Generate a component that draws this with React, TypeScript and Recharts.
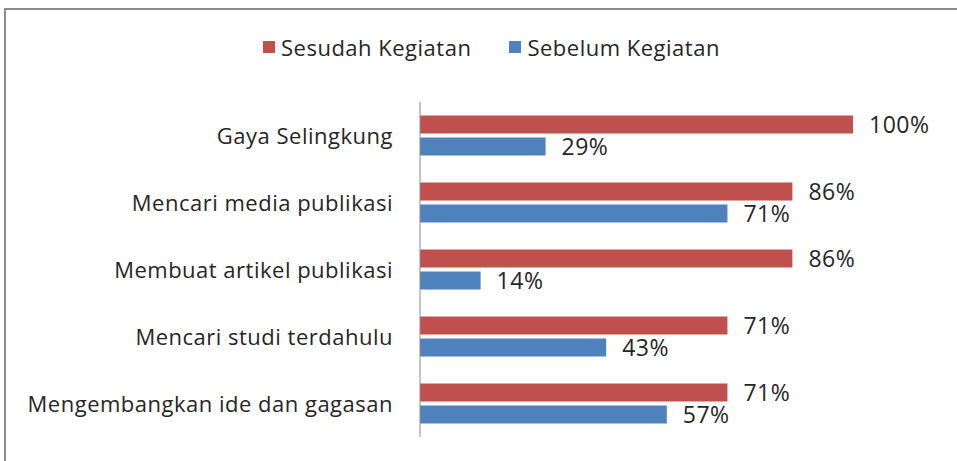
import { BarChart, Bar, XAxis, YAxis, LabelList } from 'recharts';

const categories = [
  'Gaya Selingkung',
  'Mencari media publikasi',
  'Membuat artikel publikasi',
  'Mencari studi terdahulu',
  'Mengembangkan ide dan gagasan',
];
const sesudah = [100, 86, 86, 71, 71];
const sebelum = [29, 71, 14, 43, 57];

const seriesNames = ['Sesudah Kegiatan', 'Sebelum Kegiatan'];
const seriesColors = ['#C0504D', '#4F81BD'];

const data = categories.map((name, i) => ({ name, sesudah: sesudah[i], sebelum: sebelum[i] }));

const FONT = '"Open Sans", sans-serif';

const CategoryTick = ({ x, y, payload }: any) => (
  <text x={x} y={y} dy={8} textAnchor="end" fontSize={22} letterSpacing={0.5} fill="#262626" fontFamily={FONT}>
    {payload.value}
  </text>
);

const TopLegend = () => (
  <div
    style={{
      position: 'absolute',
      top: 32,
      left: 263,
      display: 'flex',
      gap: 38,
      fontFamily: FONT,
      fontSize: 22,
      letterSpacing: 0.5,
      color: '#262626',
      lineHeight: '30px',
    }}
  >
    {seriesNames.map((n, i) => (
      <div key={n} style={{ display: 'flex', alignItems: 'center' }}>
        <span style={{ width: 12, height: 12, background: seriesColors[i], marginRight: 6, display: 'inline-block' }} />
        {n}
      </div>
    ))}
  </div>
);

const pct = (v: any) => `${v}%`;

export default function App() {
  return (
    <div style={{ position: 'absolute', left: 0, top: 0, width: 957, height: 461, background: '#fff', overflow: 'hidden' }}>
      <div style={{ position: 'absolute', left: 4, top: 8, right: -10, bottom: -10, borderTop: '2px solid #8c8c8c', borderLeft: '2px solid #8c8c8c' }} />
      <TopLegend />
      <div style={{ position: 'absolute', left: 0, top: 0 }}>
        <BarChart
          width={957}
          height={461}
          data={data}
          layout="vertical"
          margin={{ top: 102, right: 104, bottom: 24, left: 0 }}
          barCategoryGap="20%"
          barGap={4}
        >
          <XAxis type="number" domain={[0, 100]} hide />
          <YAxis
            type="category"
            dataKey="name"
            width={420}
            axisLine={{ stroke: '#8c8c8c', strokeWidth: 1 }}
            tickLine={false}
            tickSize={0}
            tickMargin={27}
            tick={<CategoryTick />}
          />
          <Bar dataKey="sesudah" name={seriesNames[0]} fill={seriesColors[0]} isAnimationActive={false}>
            <LabelList dataKey="sesudah" position="right" offset={16} formatter={pct} fontSize={23} letterSpacing={0.5} fill="#262626" fontFamily={FONT} />
          </Bar>
          <Bar dataKey="sebelum" name={seriesNames[1]} fill={seriesColors[1]} isAnimationActive={false}>
            <LabelList dataKey="sebelum" position="right" offset={16} formatter={pct} fontSize={23} letterSpacing={0.5} fill="#262626" fontFamily={FONT} />
          </Bar>
        </BarChart>
      </div>
    </div>
  );
}
